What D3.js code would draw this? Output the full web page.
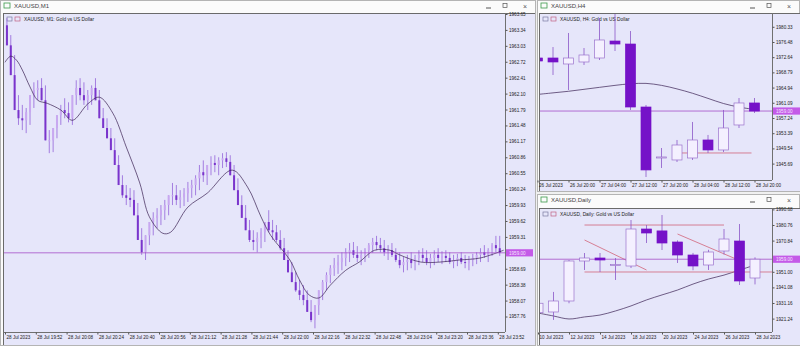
<!DOCTYPE html>
<html>
<head>
<meta charset="utf-8">
<script src="https://cdn.jsdelivr.net/npm/d3@7"></script>
<style>
  body { margin: 0; background: #f0f0f0; }
  svg text { font-family: "Liberation Sans", Arial, sans-serif; }
</style>
</head>
<body>
<svg id="chart" width="800" height="346"></svg>
<script>
// ---------- M1 data (2-minute steps from 28 Jul 19:36) ----------
const m1Open = [
  1963.43,1963.04,1962.46,1961.78,1961.62,1961.58,1961.74,1962.07,1962.17,1962.21,
  1961.97,1961.19,1961.19,1961.43,1961.68,1961.78,1961.72,1961.62,1962.07,1962.21,
  1962.07,1961.97,1962.07,1962.21,1961.97,1961.62,1961.43,1961.23,1961.00,1960.71,
  1960.32,1960.12,1960.07,1960.03,1959.73,1959.25,1959.01,1959.34,1959.60,1959.68,
  1959.73,1959.83,1959.93,1960.12,1960.12,1960.03,1960.08,1960.16,1960.26,1960.32,
  1960.45,1960.57,1960.51,1960.71,1960.75,1960.71,1960.80,1960.84,1960.77,1960.51,
  1960.22,1959.93,1959.68,1959.44,1959.25,1959.21,1959.29,1959.40,1959.60,1959.44,
  1959.40,1959.25,1959.09,1958.86,1958.62,1958.43,1958.27,1958.18,1958.08,1957.85,
  1957.69,1957.98,1958.27,1958.43,1958.57,1958.70,1958.76,1958.82,1958.90,1959.01,
  1959.05,1958.96,1958.90,1958.96,1959.05,1959.15,1959.21,1959.15,1959.09,1959.01,
  1959.05,1958.96,1958.86,1958.76,1958.82,1958.86,1958.80,1958.90,1958.96,1958.90,
  1958.82,1958.90,1958.96,1958.90,1958.94,1958.90,1958.82,1958.86,1958.90,1958.82,
  1958.80,1958.86,1958.90,1958.96,1959.01,1958.96,1959.05,1959.15,1959.09
];
const m1Close = [
  1963.04,1962.46,1961.78,1961.62,1961.58,1961.74,1962.07,1962.17,1962.21,1961.97,
  1961.19,1961.19,1961.43,1961.68,1961.78,1961.72,1961.62,1962.07,1962.21,1962.07,
  1961.97,1962.07,1962.21,1961.97,1961.62,1961.43,1961.23,1961.00,1960.71,1960.32,
  1960.12,1960.07,1960.03,1959.73,1959.25,1959.01,1959.34,1959.60,1959.68,1959.73,
  1959.83,1959.93,1960.12,1960.12,1960.03,1960.08,1960.16,1960.26,1960.32,1960.45,
  1960.57,1960.51,1960.71,1960.75,1960.71,1960.80,1960.84,1960.77,1960.51,1960.22,
  1959.93,1959.68,1959.44,1959.25,1959.21,1959.29,1959.40,1959.60,1959.44,1959.40,
  1959.25,1959.09,1958.86,1958.62,1958.43,1958.27,1958.18,1958.08,1957.85,1957.69,
  1957.98,1958.27,1958.43,1958.57,1958.70,1958.76,1958.82,1958.90,1959.01,1959.05,
  1958.96,1958.90,1958.96,1959.05,1959.15,1959.21,1959.15,1959.09,1959.01,1959.05,
  1958.96,1958.86,1958.76,1958.82,1958.86,1958.80,1958.90,1958.96,1958.90,1958.82,
  1958.90,1958.96,1958.90,1958.94,1958.90,1958.82,1958.86,1958.90,1958.82,1958.80,
  1958.86,1958.90,1958.96,1959.01,1958.96,1959.05,1959.15,1959.09,1959.00
];
const m1High = [
  1963.57,1963.24,1962.85,1962.07,1961.88,1961.82,1962.07,1962.32,1962.36,1962.40,
  1962.26,1961.39,1961.43,1961.68,1961.88,1962.01,1961.93,1962.07,1962.36,1962.40,
  1962.32,1962.17,1962.26,1962.40,1962.17,1961.82,1961.62,1961.43,1961.23,1960.90,
  1960.51,1960.32,1960.26,1960.22,1959.97,1959.48,1959.34,1959.60,1959.79,1959.87,
  1959.93,1960.03,1960.12,1960.36,1960.32,1960.22,1960.26,1960.38,1960.42,1960.51,
  1960.71,1960.80,1960.71,1960.88,1960.90,1960.86,1960.94,1960.96,1960.90,1960.71,
  1960.45,1960.12,1959.93,1959.64,1959.44,1959.40,1959.48,1959.60,1959.83,1959.64,
  1959.54,1959.44,1959.29,1959.05,1958.82,1958.62,1958.47,1958.37,1958.27,1958.08,
  1957.98,1958.27,1958.47,1958.62,1958.76,1958.90,1958.96,1959.01,1959.09,1959.19,
  1959.21,1959.13,1959.05,1959.09,1959.19,1959.29,1959.33,1959.29,1959.25,1959.15,
  1959.19,1959.09,1959.01,1958.92,1958.96,1959.01,1958.96,1959.05,1959.09,1959.05,
  1958.98,1959.05,1959.09,1959.03,1959.05,1959.01,1958.96,1958.98,1959.01,1958.96,
  1958.94,1958.98,1959.01,1959.09,1959.15,1959.09,1959.19,1959.33,1959.33
];
const m1Low = [
  1963.04,1962.46,1961.78,1961.49,1961.39,1961.33,1961.49,1961.82,1961.97,1961.97,
  1961.19,1960.94,1960.96,1961.23,1961.49,1961.62,1961.54,1961.49,1961.88,1961.97,
  1961.88,1961.78,1961.88,1961.97,1961.62,1961.43,1961.23,1961.00,1960.71,1960.32,
  1960.07,1959.93,1959.89,1959.73,1959.25,1958.96,1958.86,1959.15,1959.34,1959.48,
  1959.54,1959.64,1959.73,1959.93,1959.93,1959.87,1959.91,1959.99,1960.07,1960.12,
  1960.22,1960.38,1960.32,1960.51,1960.57,1960.51,1960.65,1960.67,1960.51,1960.22,
  1959.93,1959.68,1959.44,1959.21,1959.05,1959.01,1959.09,1959.21,1959.40,1959.25,
  1959.21,1959.05,1958.86,1958.62,1958.43,1958.24,1958.08,1957.98,1957.85,1957.65,
  1957.53,1957.79,1958.08,1958.27,1958.41,1958.55,1958.59,1958.66,1958.74,1958.82,
  1958.90,1958.82,1958.76,1958.82,1958.90,1959.00,1959.05,1959.01,1958.94,1958.86,
  1958.92,1958.82,1958.70,1958.62,1958.66,1958.70,1958.66,1958.76,1958.82,1958.76,
  1958.70,1958.76,1958.82,1958.78,1958.82,1958.78,1958.70,1958.74,1958.78,1958.70,
  1958.66,1958.74,1958.78,1958.82,1958.90,1958.82,1958.94,1959.01,1958.94
];
// moving average, minutes after 19:36
const m1MaMin = [0,3,6,9,13,17,22,29,35,43,49,56,63,70,75,82,86,95,105,118,126,133,138,148,153,158,163,169,177,184,192,200,205,216,226,236,247,259];
const m1MaVal = [1962.71,1962.83,1962.75,1962.56,1962.23,1961.97,1961.91,1961.78,1961.58,1961.90,1962.03,1961.72,1961.06,1960.36,1959.70,1959.38,1959.40,1959.89,1960.16,1960.61,1960.28,1959.70,1959.34,1958.86,1958.47,1958.18,1958.12,1958.37,1958.66,1958.82,1959.05,1959.05,1958.96,1958.82,1958.82,1958.86,1958.90,1959.05];
const m1PriceTicks = [1963.65,1963.34,1963.03,1962.72,1962.41,1962.10,1961.79,1961.48,1961.17,1960.86,1960.55,1960.24,1959.93,1959.62,1959.31,1958.69,1958.38,1958.07,1957.76];
const m1TimeLabels = ["28 Jul 2023","28 Jul 19:52","28 Jul 20:08","28 Jul 20:24","28 Jul 20:40","28 Jul 20:56","28 Jul 21:12","28 Jul 21:28","28 Jul 21:44","28 Jul 22:00","28 Jul 22:16","28 Jul 22:32","28 Jul 22:48","28 Jul 23:04","28 Jul 23:20","28 Jul 23:36","28 Jul 23:52"];

// ---------- H4 data (from 26 Jul 12:00) ----------
const h4Open  = [1972.43,1972.43,1970.91,1971.42,1972.43,1976.73,1975.97,1960.02,1947.11,1946.61,1947.11,1951.67,1949.14,1955.47,1961.04];
const h4High  = [1973.95,1975.21,1978.76,1974.96,1982.56,1983.57,1979.26,1960.53,1949.64,1951.67,1956.23,1952.94,1959.27,1962.30,1962.30];
const h4Low   = [1970.40,1968.13,1964.33,1970.66,1971.92,1974.20,1959.27,1942.30,1944.58,1946.10,1946.61,1948.38,1948.63,1954.71,1958.51];
const h4Close = [1971.67,1971.42,1972.43,1973.19,1976.99,1975.97,1960.02,1944.08,1947.37,1950.40,1951.67,1949.14,1954.71,1961.04,1959.00];
const h4MaVal = [1963.2,1963.6,1964.0,1964.5,1965.0,1965.5,1965.9,1966.0,1965.5,1964.6,1963.5,1962.2,1960.9,1960.0,1959.4];
const h4PriceTicks = [1980.33,1976.48,1972.64,1968.79,1964.94,1961.09,1957.24,1953.39,1949.54,1945.69];
const h4TimeLabels = ["26 Jul 2023","26 Jul 20:00","27 Jul 04:00","27 Jul 12:00","27 Jul 20:00","28 Jul 04:00","28 Jul 12:00","28 Jul 20:00"];
const h4Level = 1948.38;

// ---------- Daily data ----------
const dDays  = ["10 Jul","11 Jul","12 Jul","13 Jul","14 Jul","17 Jul","18 Jul","19 Jul","20 Jul","21 Jul","24 Jul","25 Jul","26 Jul","27 Jul","28 Jul"];
const dOpen  = [1925.0,1925.45,1932.44,1957.87,1959.78,1955.33,1954.69,1978.21,1977.00,1969.95,1961.68,1955.33,1964.23,1970.58,1947.06];
const dHigh  = [1934.0,1938.20,1958.50,1962.95,1962.95,1959.78,1983.93,1980.76,1987.11,1971.00,1963.00,1965.00,1978.21,1981.39,1960.20];
const dLow   = [1921.0,1920.40,1931.00,1952.15,1950.88,1945.79,1953.40,1969.31,1964.86,1956.60,1952.00,1952.15,1962.00,1942.61,1943.00];
const dClose = [1931.0,1932.44,1957.87,1959.78,1958.50,1955.60,1978.21,1975.67,1969.31,1961.68,1954.69,1963.59,1971.85,1945.15,1959.00];
const dMaVal = [1924.8,1922.9,1921.0,1922.3,1923.5,1926.1,1929.3,1933.1,1936.3,1939.4,1943.2,1946.4,1948.9,1952.1,1955.3];
const dPriceTicks = [1990.68,1980.76,1970.84,1951.00,1941.08,1931.16,1921.24];
const dTimeLabels = ["10 Jul 2023","12 Jul 2023","14 Jul 2023","18 Jul 2023","20 Jul 2023","24 Jul 2023","26 Jul 2023","28 Jul 2023"];
const dTrendLines = [
  { from: "13 Jul", to: "26 Jul", p1: 1980.75, p2: 1980.75 },
  { from: "13 Jul", to: "28 Jul", p1: 1950.88, p2: 1950.88, extend: true },
  { from: "13 Jul", to: "19 Jul", p1: 1971.22, p2: 1952.15 },
  { from: "21 Jul", to: "27 Jul", p1: 1975.03, p2: 1958.20 }
];
const bid = 1959.00;

// ---------- drawing ----------
const svg = d3.select("#chart");
const LAV = "#e6e6fa";
const BEAR = "#7512c8";
const BULL_FILL = "#f4f0ff";
const WICK = "#8a56c8";
const LINE = "#a64fc8";
const TREND = "#d2647a";
const fmt = d3.format(".2f");

function windowFrame(x, y, w, h, title) {
  svg.append("rect").attr("x", x + 0.5).attr("y", y + 0.5).attr("width", w - 1).attr("height", h - 1)
    .attr("fill", "#fbfbfb").attr("stroke", "#b4b4b4");
  // icon
  svg.append("rect").attr("x", x + 4).attr("y", y + 3).attr("width", 6).attr("height", 5)
    .attr("fill", "none").attr("stroke", "#3c9a4c").attr("stroke-width", 0.8);
  svg.append("text").attr("x", x + 14).attr("y", y + 8).attr("font-size", 6).attr("fill", "#444").text(title);
  const bx = x + w;
  svg.append("line").attr("x1", bx - 50).attr("x2", bx - 45).attr("y1", y + 8).attr("y2", y + 8).attr("stroke", "#555");
  svg.append("rect").attr("x", bx - 33).attr("y", y + 3.5).attr("width", 4).attr("height", 4)
    .attr("fill", "none").attr("stroke", "#555").attr("stroke-width", 0.7);
  svg.append("text").attr("x", bx - 13).attr("y", y + 8.5).attr("font-size", 7).attr("fill", "#555").text("×");
}

function chartBox(x0, y0, x1, y1, px1, py1, header) {
  svg.append("rect").attr("x", x0).attr("y", y0).attr("width", x1 - x0).attr("height", y1 - y0).attr("fill", LAV);
  svg.append("line").attr("x1", x0).attr("x2", x1).attr("y1", y0 + 0.5).attr("y2", y0 + 0.5).attr("stroke", "#6a6a6a");
  svg.append("line").attr("x1", x0 + 0.5).attr("x2", x0 + 0.5).attr("y1", y0).attr("y2", y1).attr("stroke", "#6a6a6a");
  // axis lines
  svg.append("line").attr("x1", px1 + 0.5).attr("x2", px1 + 0.5).attr("y1", y0).attr("y2", py1).attr("stroke", "#707070");
  svg.append("line").attr("x1", x0).attr("x2", px1).attr("y1", py1 + 0.5).attr("y2", py1 + 0.5).attr("stroke", "#707070");
  // header icons + text
  svg.append("rect").attr("x", x0 + 4).attr("y", y0 + 4).attr("width", 5).attr("height", 4)
    .attr("fill", "none").attr("stroke", "#7a7aa0").attr("stroke-width", 0.7);
  svg.append("rect").attr("x", x0 + 12).attr("y", y0 + 4).attr("width", 5).attr("height", 4)
    .attr("fill", "none").attr("stroke", "#c06080").attr("stroke-width", 0.7);
  svg.append("text").attr("x", x0 + 21).attr("y", y0 + 7.8).attr("font-size", 4.8).attr("fill", "#222").text(header);
}

function clip(id, x0, y0, x1, y1) {
  svg.append("clipPath").attr("id", id).append("rect")
    .attr("x", x0).attr("y", y0).attr("width", x1 - x0).attr("height", y1 - y0);
  return svg.append("g").attr("clip-path", `url(#${id})`);
}

function priceAxis(y, ticks, ax) {
  const a = svg.append("g").attr("transform", `translate(${ax + 0.5},0)`)
    .call(d3.axisRight(y).tickValues(ticks).tickSize(2).tickPadding(1.5).tickFormat(fmt));
  a.select(".domain").remove();
  a.selectAll("line").attr("stroke", "#555");
  a.selectAll("text").attr("font-size", 4.6).attr("fill", "#222").attr("font-family", "Liberation Sans, Arial");
  // bid label
  svg.append("rect").attr("x", ax + 1).attr("y", y(bid) - 3.6).attr("width", 27).attr("height", 7.2).attr("fill", "#c45ae8");
  svg.append("text").attr("x", ax + 4).attr("y", y(bid) + 1.7).attr("font-size", 4.6).attr("fill", "#f4e8ff").text(fmt(bid));
}

function timeAxis(x, tickVals, labels, ay) {
  const a = svg.append("g").attr("transform", `translate(0,${ay + 0.5})`)
    .call(d3.axisBottom(x).tickValues(tickVals).tickSize(2).tickPadding(1).tickFormat((d, i) => labels[i]));
  a.select(".domain").remove();
  a.selectAll("line").attr("stroke", "#555");
  a.selectAll("text").attr("font-size", 4.6).attr("fill", "#222").attr("text-anchor", "start")
    .attr("dx", 1).attr("font-family", "Liberation Sans, Arial");
}

function drawCandles(g, xs, y, O, H, L, C, w, thin) {
  const idx = d3.range(O.length);
  g.selectAll(null).data(idx).enter().append("line")
    .attr("x1", (i) => xs[i]).attr("x2", (i) => xs[i])
    .attr("y1", (i) => y(H[i])).attr("y2", (i) => y(L[i]))
    .attr("stroke", thin ? "#a47ee0" : WICK).attr("stroke-width", thin ? 1 : 0.8);
  g.selectAll(null).data(idx).enter().append("rect")
    .attr("x", (i) => xs[i] - w / 2)
    .attr("y", (i) => y(Math.max(O[i], C[i])))
    .attr("width", w)
    .attr("height", (i) => Math.max(1, Math.abs(y(O[i]) - y(C[i]))))
    .attr("fill", (i) => (C[i] >= O[i] ? (thin ? "#c8a8f0" : BULL_FILL) : (thin ? "#7a34cc" : BEAR)))
    .attr("stroke", (i) => (thin ? "none" : (C[i] >= O[i] ? "#9a72cc" : BEAR)))
    .attr("stroke-width", 0.7);
}

// ===== windows =====
windowFrame(0, 0, 536, 346, "XAUUSD,M1");
windowFrame(537, 0, 263, 192, "XAUUSD,H4");
windowFrame(537, 194, 263, 152, "XAUUSD,Daily");

// ===== M1 =====
chartBox(3, 13, 535, 345, 505, 332, "XAUUSD, M1:  Gold vs US Dollar");
const t0 = new Date(2023, 6, 28, 19, 36);
const addMin = (m) => new Date(t0.getTime() + m * 60000);
const m1x = d3.scaleTime().domain([t0, addMin(259)]).range([5, 503.6]);
const m1y = d3.scaleLinear().domain([1957.76, 1963.65]).range([316.5, 14]);
const g1 = clip("c1", 4, 14, 505, 332);
const m1xs = m1Open.map((d, i) => m1x(addMin(2 * i + 1)));
drawCandles(g1, m1xs, m1y, m1Open, m1High, m1Low, m1Close, 2, true);
g1.append("path")
  .attr("d", d3.line().x((d, i) => m1x(addMin(m1MaMin[i]))).y((d) => m1y(d)).curve(d3.curveCatmullRom)(m1MaVal))
  .attr("fill", "none").attr("stroke", "#3a1f52").attr("stroke-width", 0.7);
g1.append("line").attr("x1", 4).attr("x2", 505).attr("y1", m1y(bid)).attr("y2", m1y(bid)).attr("stroke", LINE).attr("stroke-width", 0.8);
priceAxis(m1y, m1PriceTicks, 505);
timeAxis(m1x, m1TimeLabels.map((d, i) => addMin(16 * i)), m1TimeLabels, 332);

// ===== H4 =====
chartBox(539, 13, 800, 191, 772, 180, "XAUUSD, H4:  Gold vs US Dollar");
const h0 = new Date(2023, 6, 26, 12, 0);
const addH = (h) => new Date(h0.getTime() + h * 3600000);
const h4x = d3.scaleTime().domain([h0, addH(56)]).range([537.5, 754.5]);
const h4y = d3.scaleLinear().domain([1945.69, 1976.48]).range([163.6, 42]);
const g2 = clip("c2", 540, 14, 772, 180);
const h4xs = h4Open.map((d, i) => h4x(addH(4 * i)));
g2.append("path")
  .attr("d", d3.line().x((d, i) => h4xs[i]).y((d) => h4y(d)).curve(d3.curveCatmullRom)(h4MaVal))
  .attr("fill", "none").attr("stroke", "#3a1f52").attr("stroke-width", 0.7);
g2.append("line").attr("x1", h4x(addH(48 - 12))).attr("x2", h4xs[14] - 3)
  .attr("y1", h4y(h4Level)).attr("y2", h4y(h4Level)).attr("stroke", TREND).attr("stroke-width", 0.8);
g2.append("line").attr("x1", 540).attr("x2", 772).attr("y1", h4y(bid)).attr("y2", h4y(bid)).attr("stroke", LINE).attr("stroke-width", 0.8);
drawCandles(g2, h4xs, h4y, h4Open, h4High, h4Low, h4Close, 10, false);
priceAxis(h4y, h4PriceTicks, 772);
timeAxis(h4x, h4TimeLabels.map((d, i) => addH(8 * i)), h4TimeLabels, 180);

// ===== Daily =====
chartBox(539, 208, 800, 345, 772, 332, "XAUUSD, Daily:  Gold vs US Dollar");
const dx = d3.scalePoint().domain(dDays).range([538, 755]);
const dy = d3.scaleLinear().domain([1951.00, 1960.92]).range([271.8, 256.2]);
const g3 = clip("c3", 540, 209, 772, 332);
g3.append("path")
  .attr("d", d3.line().x((d, i) => dx(dDays[i])).y((d) => dy(d)).curve(d3.curveCatmullRom)(dMaVal))
  .attr("fill", "none").attr("stroke", "#3a1f52").attr("stroke-width", 0.7);
dTrendLines.forEach((t) => {
  g3.append("line").attr("x1", dx(t.from)).attr("x2", t.extend ? 772 : dx(t.to))
    .attr("y1", dy(t.p1)).attr("y2", dy(t.p2)).attr("stroke", TREND).attr("stroke-width", 0.8);
});
g3.append("line").attr("x1", 540).attr("x2", 772).attr("y1", dy(bid)).attr("y2", dy(bid)).attr("stroke", LINE).attr("stroke-width", 0.8);
drawCandles(g3, dDays.map((d) => dx(d)), dy, dOpen, dHigh, dLow, dClose, 10, false);
priceAxis(dy, dPriceTicks, 772);
const dLabelDays = ["10 Jul","12 Jul","14 Jul","18 Jul","20 Jul","24 Jul","26 Jul","28 Jul"];
timeAxis(dx, dLabelDays, dTimeLabels, 332);
</script>
</body>
</html>
